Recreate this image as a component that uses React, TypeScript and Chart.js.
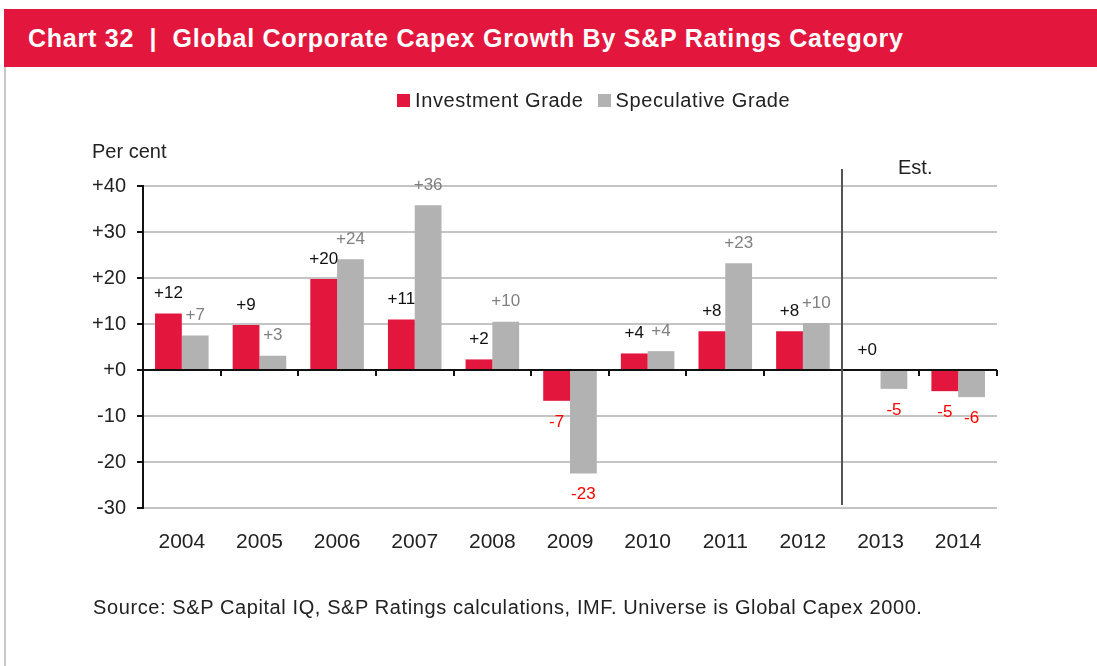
import React, { useEffect, useRef } from "react";
import { Chart, registerables } from "chart.js";

Chart.register(...registerables);

const categories = ["2004", "2005", "2006", "2007", "2008", "2009", "2010", "2011", "2012", "2013", "2014"];
const investmentGrade = [12.3, 9.8, 19.8, 11.0, 2.3, -6.7, 3.6, 8.4, 8.4, 0.0, -4.6];
const speculativeGrade = [7.5, 3.1, 24.1, 35.8, 10.5, -22.5, 4.1, 23.2, 10.2, -4.1, -5.9];
const investmentLabels = ["+12", "+9", "+20", "+11", "+2", "-7", "+4", "+8", "+8", "+0", "-5"];
const speculativeLabels = ["+7", "+3", "+24", "+36", "+10", "-23", "+4", "+23", "+10", "-5", "-6"];
const yMin = -30;
const yMax = 40;
const yStep = 10;
const estimateStartIndex = 9;

const RED = "#E3173E";
const GREY = "#B2B2B2";
const FONT = "'Liberation Sans', Arial, sans-serif";

const overlayPlugin = {
  id: "overlay",
  afterDatasetsDraw(chart: any) {
    const { ctx, chartArea, scales } = chart;
    const y = scales.y;
    const zeroY = y.getPixelForValue(0);
    const n = categories.length;
    const cw = (chartArea.right - chartArea.left) / n;
    ctx.save();
    // zero line
    ctx.strokeStyle = "#111";
    ctx.lineWidth = 2;
    ctx.beginPath();
    ctx.moveTo(chartArea.left, zeroY);
    ctx.lineTo(chartArea.right, zeroY);
    ctx.stroke();
    // category tick marks
    for (let i = 1; i <= n; i++) {
      const x = Math.round(chartArea.left + i * cw);
      ctx.beginPath();
      ctx.moveTo(x, zeroY);
      ctx.lineTo(x, zeroY + 6);
      ctx.stroke();
    }
    // estimate divider
    const ex = Math.round(chartArea.left + estimateStartIndex * cw);
    ctx.strokeStyle = "#555";
    ctx.lineWidth = 2;
    ctx.beginPath();
    ctx.moveTo(ex, chartArea.top - 17);
    ctx.lineTo(ex, chartArea.bottom - 3);
    ctx.stroke();

    ctx.textAlign = "left";
    ctx.textBaseline = "middle";
    ctx.fillStyle = "#222";
    ctx.font = `20px ${FONT}`;
    ctx.fillText("Est.", ex + 56, chartArea.top - 18);
    ctx.fillText("Per cent", 92, chartArea.top - 34);

    // data labels
    ctx.textAlign = "center";
    ctx.font = `17px ${FONT}`;
    const labelSets = [investmentLabels, speculativeLabels];
    const valueSets = [investmentGrade, speculativeGrade];
    for (let d = 0; d < 2; d++) {
      const meta = chart.getDatasetMeta(d);
      meta.data.forEach((el: any, i: number) => {
        const v = valueSets[d][i];
        if (v >= 0) {
          ctx.fillStyle = d === 0 ? "#111" : "#808080";
          ctx.fillText(labelSets[d][i], el.x, el.y - 20);
        } else {
          ctx.fillStyle = "#FF0000";
          ctx.fillText(labelSets[d][i], el.x, el.y + 21);
        }
      });
    }
    ctx.restore();
  },
};

export default function App() {
  const ref = useRef<HTMLCanvasElement | null>(null);
  useEffect(() => {
    if (!ref.current) return;
    const chart = new Chart(ref.current, {
      type: "bar",
      data: {
        labels: categories,
        datasets: [
          { label: "Investment Grade", data: investmentGrade, backgroundColor: RED, borderWidth: 0 },
          { label: "Speculative Grade", data: speculativeGrade, backgroundColor: GREY, borderWidth: 0 },
        ],
      },
      options: {
        responsive: false,
        animation: false,
        devicePixelRatio: 1,
        layout: { padding: { top: 186, left: 0, right: 100, bottom: 0 } },
        plugins: { legend: { display: false }, tooltip: { enabled: false }, title: { display: false } },
        datasets: { bar: { barPercentage: 1.0, categoryPercentage: 0.69 } },
        scales: {
          x: {
            grid: { display: false, drawTicks: false },
            border: { display: false },
            ticks: { color: "#222", font: { family: FONT, size: 21 }, padding: 22, maxRotation: 0 },
            afterFit: (s: any) => { s.height = 666 - 508; },
          },
          y: {
            min: yMin,
            max: yMax,
            ticks: {
              stepSize: yStep,
              color: "#222",
              font: { family: FONT, size: 20 },
              padding: 11,
              callback: (v: any) => (v > 0 ? "+" + v : v === 0 ? "+0" : String(v)),
            },
            grid: {
              color: "#C4C4C4",
              lineWidth: 2,
              tickColor: "#111",
              tickLength: 6,
            },
            border: { display: true, color: "#111", width: 2 },
            afterFit: (s: any) => { s.width = 143; },
          },
        },
      },
      plugins: [overlayPlugin],
    });
    return () => chart.destroy();
  }, []);

  return (
    <div style={{ position: "absolute", left: 0, top: 0, width: 1097, height: 666, background: "#fff", overflow: "hidden", fontFamily: FONT }}>
      <canvas ref={ref} width={1097} height={666} style={{ position: "absolute", left: 0, top: 0, display: "block" }} />
      <div style={{ position: "absolute", left: 4, top: 9, width: 1093, height: 58, background: RED }} />
      <div style={{ position: "absolute", left: 28, top: 9, height: 58, lineHeight: "58px", color: "#fff", fontFamily: "'Liberation Sans Narrow', 'Liberation Sans', Arial, sans-serif", fontWeight: "bold", fontSize: 25, letterSpacing: "0.75px", whiteSpace: "nowrap" }}>
        Chart 32&nbsp;&nbsp;|&nbsp;&nbsp;Global Corporate Capex Growth By S&amp;P Ratings Category
      </div>
      <div style={{ position: "absolute", left: 4, top: 67, width: 2, height: 599, background: "#C8C8C8" }} />
      <div style={{ position: "absolute", left: 397, top: 88, height: 24, display: "flex", alignItems: "center", fontSize: 20, color: "#222", letterSpacing: "0.6px", whiteSpace: "nowrap" }}>
        <span style={{ display: "inline-block", width: 13, height: 13, background: RED, marginRight: 5 }} />
        <span>Investment Grade</span>
        <span style={{ display: "inline-block", width: 13, height: 13, background: GREY, marginLeft: 14, marginRight: 5 }} />
        <span>Speculative Grade</span>
      </div>
      <div style={{ position: "absolute", left: 93, top: 596, fontSize: 20, color: "#222", letterSpacing: "0.6px", whiteSpace: "nowrap" }}>
        Source: S&amp;P Capital IQ, S&amp;P Ratings calculations, IMF. Universe is Global Capex 2000.
      </div>
    </div>
  );
}
